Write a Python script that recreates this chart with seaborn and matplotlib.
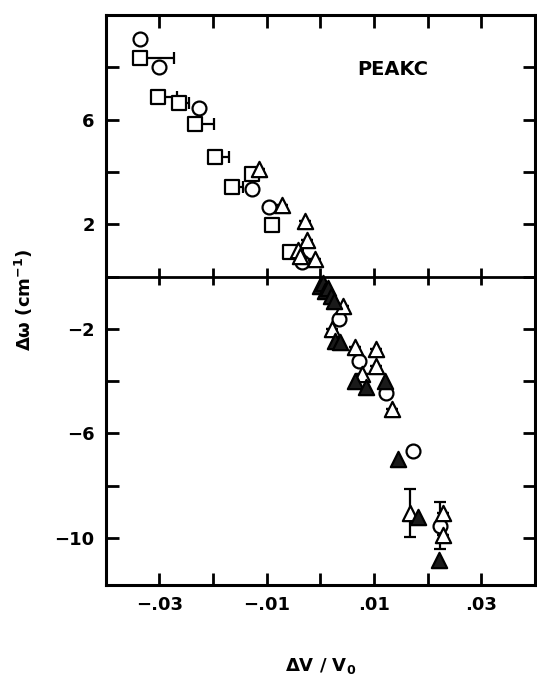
import numpy as np
import pandas as pd
import matplotlib
matplotlib.use("Agg")
import matplotlib.pyplot as plt
import seaborn as sns
from matplotlib.ticker import FixedLocator, FuncFormatter

# ---- data ----
sq_x = [-0.0336, -0.0302, -0.0264, -0.0233, -0.0196, -0.0127, -0.0165, -0.0090, -0.0057]
sq_y = [8.35, 6.86, 6.63, 5.82, 4.57, 3.92, 3.41, 1.98, 0.94]
sq_xerr = [0.0064, 0.0035, 0.0020, 0.0035, 0.0025, 0.0, 0.0020, 0.0, 0.0]

ci_x = [-0.0336, -0.0300, -0.0227, -0.0127, -0.0096, -0.0034, 0.0034, 0.0073, 0.0123, 0.0173, 0.0223]
ci_y = [9.09, 8.02, 6.45, 3.33, 2.65, 0.54, -1.63, -3.22, -4.45, -6.68, -9.52]
ci_yerr = [0, 0, 0, 0, 0, 0, 0, 0, 0, 0, 0.90]

ot_x = [-0.0115, -0.0072, -0.0028, -0.0025, -0.0042, -0.0037, -0.0009, 0.0043, 0.0022,
        0.0065, 0.0104, 0.0103, 0.0078, 0.0134, 0.0168, 0.0229, 0.0229]
ot_y = [4.10, 2.74, 2.14, 1.38, 1.03, 0.77, 0.67, -1.13, -2.02,
        -2.71, -2.78, -3.41, -3.73, -5.08, -9.05, -9.05, -9.87]
ot_yerr = [0, 0, 0, 0, 0, 0, 0, 0, 0, 0, 0, 0, 0, 0, 0.92, 0, 0]

ft_x = [0.0000, 0.0005, 0.0009, 0.0015, 0.0019, 0.0025, 0.0028, 0.0037,
        0.0065, 0.0086, 0.0121, 0.0144, 0.0183, 0.0221]
ft_y = [-0.37, -0.25, -0.56, -0.45, -0.75, -0.94, -2.46, -2.52,
        -3.98, -4.23, -3.98, -6.98, -9.18, -10.83]

x_ticks = [-0.03, -0.02, -0.01, 0.0, 0.01, 0.02, 0.03]
x_tick_labels = {-0.03: "\u2212.03", -0.01: "\u2212.01", 0.01: ".01", 0.03: ".03"}
y_ticks = [-10, -8, -6, -4, -2, 0, 2, 4, 6, 8]
y_tick_labels = {6: "6", 2: "2", -2: "\u22122", -6: "\u22126", -10: "\u221210"}

sns.set_theme(style="ticks")
plt.rcParams["font.family"] = ["DejaVu Sans"]
plt.rcParams["font.weight"] = "bold"
plt.rcParams["text.color"] = "black"
plt.rcParams["axes.labelcolor"] = "black"

fig = plt.figure(figsize=(5.37, 6.82), dpi=100)
ax = fig.add_axes([0.197, 0.142, 0.799, 0.836])

mew = 1.6
# error bars
ax.errorbar(sq_x, sq_y, xerr=[np.zeros(len(sq_x)), sq_xerr], fmt="none",
            ecolor="black", elinewidth=1.6, capsize=4.5, capthick=1.6, zorder=2)
ax.errorbar(ci_x, ci_y, yerr=ci_yerr, fmt="none", ecolor="black",
            elinewidth=1.6, capsize=4.5, capthick=1.6, zorder=2)
ax.errorbar(ot_x, ot_y, yerr=ot_yerr, fmt="none", ecolor="black",
            elinewidth=1.6, capsize=4.5, capthick=1.6, zorder=2)

sq_df = pd.DataFrame({"x": sq_x, "y": sq_y})
ci_df = pd.DataFrame({"x": ci_x, "y": ci_y})
ot_df = pd.DataFrame({"x": ot_x, "y": ot_y})
ft_df = pd.DataFrame({"x": ft_x, "y": ft_y})

sns.scatterplot(data=sq_df, x="x", y="y", marker="s", s=10**2, facecolor="white",
                edgecolor="black", linewidth=mew, ax=ax, zorder=3)
sns.scatterplot(data=ci_df, x="x", y="y", marker="o", s=10**2, facecolor="white",
                edgecolor="black", linewidth=mew, ax=ax, zorder=3)
sns.scatterplot(data=ot_df, x="x", y="y", marker="^", s=11**2, facecolor="white",
                edgecolor="black", linewidth=mew, ax=ax, zorder=3)
sns.scatterplot(data=ft_df, x="x", y="y", marker="^", s=11**2, facecolor="#1a1a1a",
                edgecolor="black", linewidth=mew, ax=ax, zorder=4)

# zero line with crossing ticks
ax.axhline(0, color="black", lw=2.0, zorder=1)
ax.vlines(x_ticks, -0.33, 0.33, colors="black", lw=2.0, zorder=1.5)

ax.set_xlim(-0.04, 0.04)
ax.set_ylim(-11.8, 10)

ax.xaxis.set_major_locator(FixedLocator(x_ticks))
ax.yaxis.set_major_locator(FixedLocator(y_ticks))
ax.xaxis.set_major_formatter(FuncFormatter(lambda v, p: x_tick_labels.get(round(v, 2), "")))
ax.yaxis.set_major_formatter(FuncFormatter(lambda v, p: y_tick_labels.get(int(round(v)), "")))

ax.tick_params(axis="both", direction="in", length=9, width=2, top=True, right=True,
               labelsize=13, pad=8, colors="black", labelcolor="black")
for lab in ax.get_xticklabels() + ax.get_yticklabels():
    lab.set_fontweight("bold")
for sp in ax.spines.values():
    sp.set_linewidth(2.2)
    sp.set_color("black")

ax.set_xlabel("\u0394V / V$_\\mathbf{0}$", fontsize=13, fontweight="bold", labelpad=30,
              color="black")
ax.set_ylabel("\u0394\u03c9 (cm$^{\\mathbf{-1}}$)", fontsize=13, fontweight="bold",
              labelpad=14, color="black")

ax.text(0.585, 0.905, "PEAKC", transform=ax.transAxes, fontsize=14, fontweight="bold",
        ha="left", va="center", color="black")

fig.savefig("out.png", dpi=100, facecolor="white")
